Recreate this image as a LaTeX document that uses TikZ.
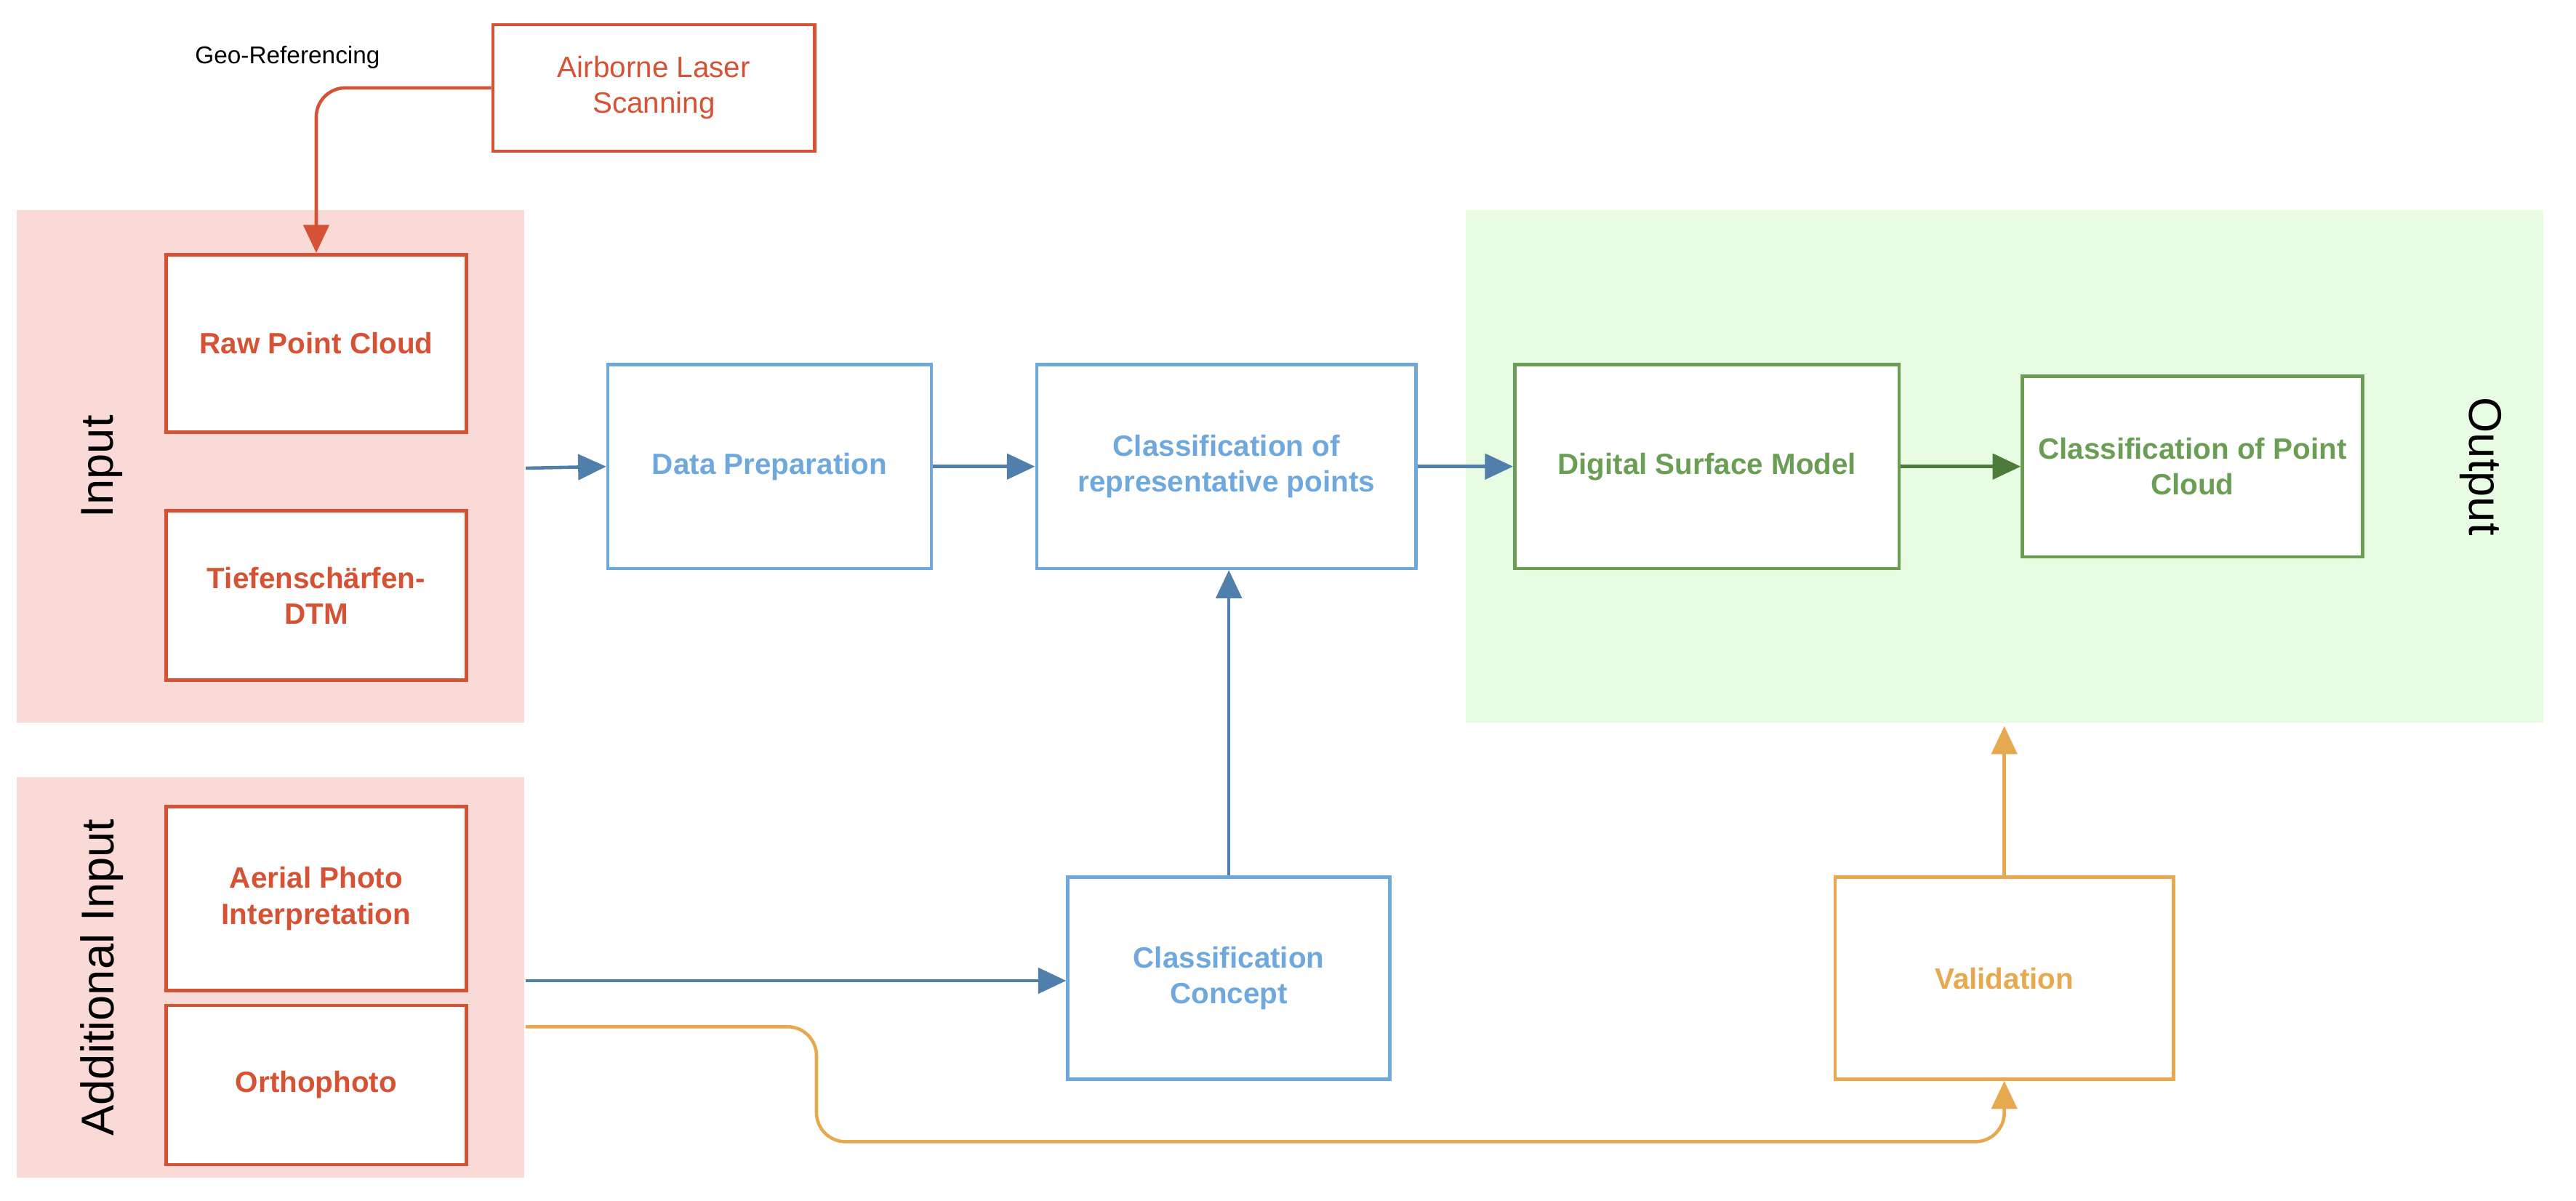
\documentclass[tikz,border=0pt]{standalone}
\usepackage{fontspec}
\setmainfont{Liberation Sans}
\usetikzlibrary{calc,arrows.meta}
\definecolor{dred}{RGB}{214,82,52}
\definecolor{dblue}{RGB}{111,168,220}
\definecolor{darr}{RGB}{79,127,170}
\definecolor{dgreen}{RGB}{106,158,84}
\definecolor{dgreenarr}{RGB}{76,124,60}
\definecolor{dorange}{RGB}{230,169,79}
\definecolor{bgred}{RGB}{250,218,214}
\definecolor{bggreen}{RGB}{232,252,228}
\tikzset{
  box/.style={draw, fill=white, line width=1.3pt, align=center, font=\fontsize{11.5}{14}\selectfont\bfseries, inner sep=0pt},
  redbox/.style={box, draw=dred, text=dred},
  bluebox/.style={box, draw=dblue, text=dblue},
  greenbox/.style={box, draw=dgreen, text=dgreen},
  orangebox/.style={box, draw=dorange, text=dorange},
  arr/.style={line width=1.3pt, rounded corners=4mm, -{Triangle[length=11pt,width=10pt]}},
  side/.style={font=\fontsize{18}{20}\selectfont}
}
\newcommand{\bx}[6]{
\node[#1, minimum width=#4*0.226mm, minimum height=#5*0.226mm] (#2) at (#3) {#6};
}
\begin{document}
\begin{tikzpicture}[x=0.226mm, y=-0.226mm]
\useasboundingbox (0,0) rectangle (1568,731);

% backgrounds
\fill[bgred] (10,128) rectangle (319,440);
\fill[bgred] (10,473) rectangle (319,717);
\fill[bggreen] (892,128) rectangle (1548,440);

\node[side, rotate=90] (inlab) at (62,284) {Input};
\node[side, rotate=90] (addlab) at (62,595) {Additional Input};
\node[side, rotate=-90] (outlab) at (1510,284) {Output};

% input boxes
\bx{redbox, font=\fontsize{11.5}{14}\selectfont}{als}{398,53.5}{196}{77}{Airborne Laser\\Scanning}
\bx{redbox}{raw}{192.5,209}{183}{108}{Raw Point Cloud}
\bx{redbox}{dtm}{192.5,362.5}{183}{103}{Tiefenschärfen-\\DTM}
\bx{redbox}{aerial}{192.5,547}{183}{112}{Aerial Photo\\Interpretation}
\bx{redbox}{ortho}{192.5,660.5}{183}{97}{Orthophoto}

% processing
\bx{bluebox}{prep}{468.5,284}{197}{124}{Data Preparation}
\bx{bluebox}{crp}{746.5,284}{231}{124}{Classification of\\representative points}
\bx{bluebox}{concept}{748,595.5}{196}{123}{Classification\\Concept}
\bx{greenbox}{dsm}{1039,284}{234}{124}{Digital Surface Model}
\bx{greenbox}{cpc}{1334.5,284}{207}{110}{Classification of Point\\Cloud}
\bx{orangebox}{valid}{1220,595.5}{206}{123}{Validation}

\coordinate (inout) at (320,285);
\coordinate (addout) at (320,597);
\coordinate (orout) at (320,625);
\coordinate (outbot) at (1220,442);

% connectors
\node[font=\fontsize{9.5}{11}\selectfont] (geo) at (175,35) {Geo-Referencing};
\draw[arr, dred] (als.west) -| (raw.north);
\draw[arr, darr] (inout) -- (prep.west);
\draw[arr, darr] (prep.east) -- (crp.west);
\draw[arr, darr] (crp.east) -- (dsm.west);
\draw[arr, dgreenarr] (dsm.east) -- (cpc.west);
\draw[arr, darr] (concept.north) -- (crp.south -| concept.north);
\draw[arr, darr] (addout) -- (concept.west |- addout);
\draw[arr, dorange] (orout) -- (497,625) -- (497,695) -- (1220,695) -- (valid.south);
\draw[arr, dorange] (valid.north) -- (outbot);
\end{tikzpicture}
\end{document}
